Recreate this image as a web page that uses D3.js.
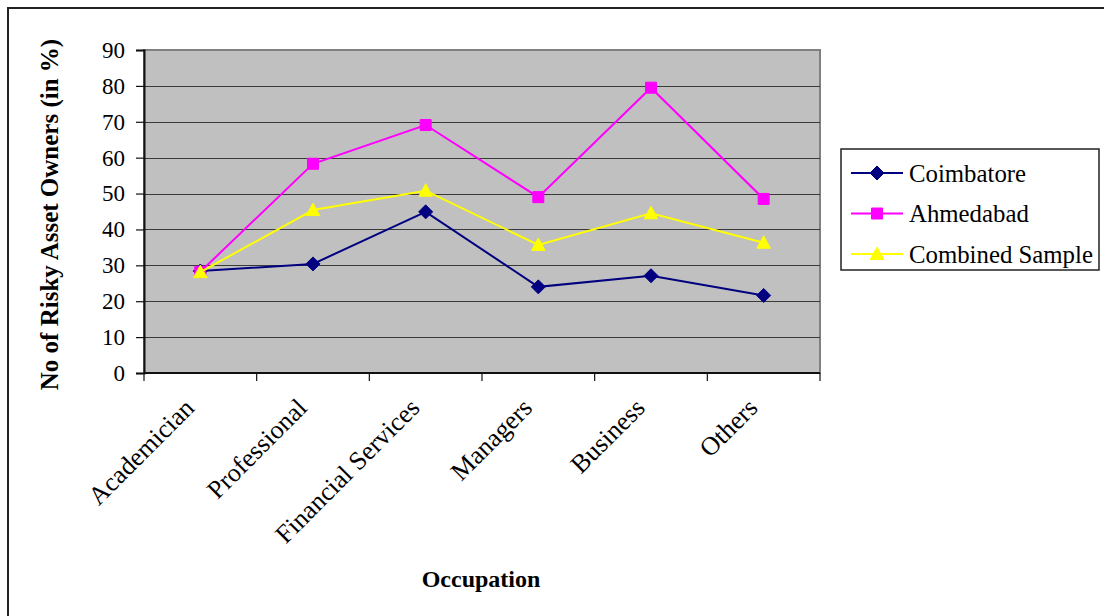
<!DOCTYPE html>
<html>
<head>
<meta charset="utf-8">
<script src="https://cdn.jsdelivr.net/npm/d3@7/dist/d3.min.js"></script>
<style>
  html, body { margin: 0; padding: 0; background: #fff; }
  svg { display: block; }
  text { font-family: "Liberation Serif", "Times New Roman", serif; fill: #000; }
</style>
</head>
<body>
<svg id="chart" width="1104" height="616"></svg>
<script>
// Share of risky asset owners by occupation (in %)
const categories = ["Academician", "Professional", "Financial Services", "Managers", "Business", "Others"];
const coimbatore = [28.4, 30.4, 44.9, 24.0, 27.1, 21.6];
const ahmedabad  = [28.2, 58.3, 69.1, 49.0, 79.5, 48.5];
const combined   = [28.1, 45.4, 50.8, 35.7, 44.5, 36.3];
const yTicks = [0, 10, 20, 30, 40, 50, 60, 70, 80, 90];
const seriesNames = ["Coimbatore", "Ahmedabad", "Combined Sample"];

const series = [
  { name: seriesNames[0], values: coimbatore, color: "#000080", marker: "diamond" },
  { name: seriesNames[1], values: ahmedabad,  color: "#FF00FF", marker: "square" },
  { name: seriesNames[2], values: combined,   color: "#FFFF00", marker: "triangle" }
];

const svg = d3.select("#chart");
const plot = { left: 144, top: 50, right: 820, bottom: 373 };

// outer chart frame (runs off the right and bottom edge)
svg.append("rect")
  .attr("x", 8).attr("y", 8).attr("width", 1200).attr("height", 700)
  .attr("fill", "none").attr("stroke", "#222").attr("stroke-width", 2);

const x = d3.scaleBand().domain(categories).range([plot.left, plot.right]).padding(0);
const y = d3.scaleLinear().domain([0, 90]).range([plot.bottom, plot.top]);

// plot area background
svg.append("rect")
  .attr("x", plot.left).attr("y", plot.top)
  .attr("width", plot.right - plot.left).attr("height", plot.bottom - plot.top)
  .attr("fill", "#C0C0C0").attr("stroke", "#808080").attr("stroke-width", 2);

// horizontal gridlines
svg.append("g").selectAll("line").data(yTicks.filter(t => t > 0)).join("line")
  .attr("x1", plot.left).attr("x2", plot.right)
  .attr("y1", d => Math.round(y(d)) + 0.5).attr("y2", d => Math.round(y(d)) + 0.5)
  .attr("stroke", d => d === 90 ? "#808080" : "#3a3a3a").attr("stroke-width", 1.2);

// y axis
const yAxis = svg.append("g")
  .attr("transform", `translate(${plot.left},0)`)
  .call(d3.axisLeft(y).tickValues(yTicks).tickSize(8).tickPadding(11));
yAxis.select(".domain").attr("stroke", "#111").attr("stroke-width", 2);
yAxis.selectAll(".tick line").attr("stroke", "#111").attr("stroke-width", 1.2);
yAxis.selectAll(".tick text")
  .style("font-family", "'Liberation Serif', serif").style("font-size", "23px").attr("fill", "#000");

// x axis with ticks between categories
const xAxis = svg.append("g").attr("transform", `translate(0,${plot.bottom})`);
xAxis.append("line")
  .attr("x1", plot.left).attr("x2", plot.right).attr("y1", 0).attr("y2", 0)
  .attr("stroke", "#111").attr("stroke-width", 2);
const bounds = categories.map(c => x(c)).concat([plot.right]);
xAxis.selectAll("line.tk").data(bounds).join("line").attr("class", "tk")
  .attr("x1", d => d).attr("x2", d => d).attr("y1", 0).attr("y2", 8)
  .attr("stroke", "#111").attr("stroke-width", 1.2);
xAxis.selectAll("text").data(categories).join("text")
  .attr("transform", d => `translate(${x(d) + x.bandwidth() / 2 - 11},${30}) rotate(-45)`)
  .attr("text-anchor", "end")
  .attr("dy", "0.35em")
  .style("font-size", "26px")
  .text(d => d);

// axis titles
svg.append("text")
  .attr("transform", `translate(58,${(plot.top + plot.bottom) / 2 + 3}) rotate(-90)`)
  .attr("text-anchor", "middle")
  .style("font-size", "25px").style("font-weight", "bold")
  .text("No of Risky Asset Owners (in %)");
svg.append("text")
  .attr("x", 481).attr("y", 587)
  .attr("text-anchor", "middle")
  .style("font-size", "24px").style("font-weight", "bold")
  .text("Occupation");

// marker shapes
function markerPath(kind) {
  if (kind === "diamond") return "M0,-7L7,0L0,7L-7,0Z";
  if (kind === "square") return "M-5.5,-5.5H5.5V5.5H-5.5Z";
  return "M0,-7L6.8,5.5H-6.8Z";
}

const cx = d => x(d) + x.bandwidth() / 2;
const line = d3.line().x((v, i) => cx(categories[i])).y(v => y(v));

series.forEach(s => {
  const g = svg.append("g");
  g.append("path").attr("d", line(s.values))
    .attr("fill", "none").attr("stroke", s.color).attr("stroke-width", 2);
  g.selectAll("path.m").data(s.values).join("path").attr("class", "m")
    .attr("transform", (v, i) => `translate(${cx(categories[i])},${y(v)})`)
    .attr("d", markerPath(s.marker))
    .attr("fill", s.color).attr("stroke", s.color).attr("stroke-width", 1);
});

// legend
const legend = svg.append("g");
legend.append("rect")
  .attr("x", 841).attr("y", 149).attr("width", 258).attr("height", 121)
  .attr("fill", "#fff").attr("stroke", "#222").attr("stroke-width", 1.5);
series.forEach((s, i) => {
  const ly = 173 + i * 40.5;
  legend.append("line").attr("x1", 851).attr("x2", 903).attr("y1", ly).attr("y2", ly)
    .attr("stroke", s.color).attr("stroke-width", 2);
  legend.append("path").attr("transform", `translate(877,${ly})`)
    .attr("d", markerPath(s.marker)).attr("fill", s.color).attr("stroke", s.color);
  legend.append("text").attr("x", 909).attr("y", ly).attr("dy", "0.35em")
    .style("font-size", "24.8px").text(s.name);
});
</script>
</body>
</html>
